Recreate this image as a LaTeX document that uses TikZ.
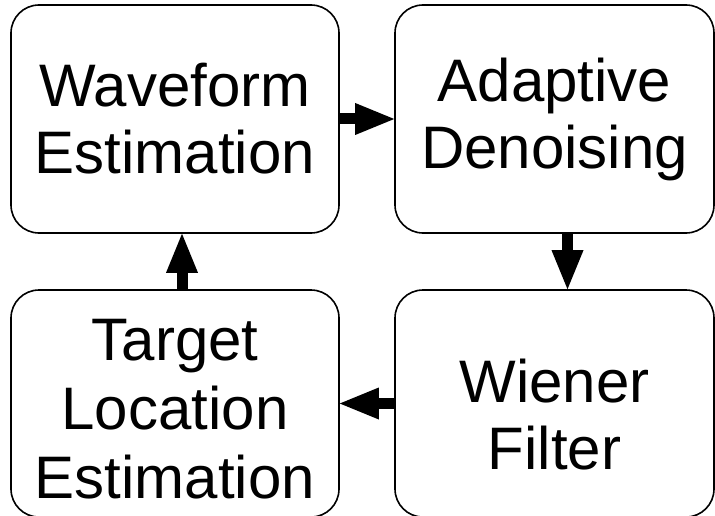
\documentclass[tikz,border=0pt]{standalone}
\usepackage{fontspec}
\setmainfont{Liberation Sans}
\usetikzlibrary{arrows.meta}

\tikzset{
  stage/.style={draw, line width=1.6pt, rounded corners=28pt, inner sep=0pt,
    minimum width=328pt, minimum height=228pt, align=center,
    font=\fontsize{60}{67}\selectfont},
  flow/.style={line width=11pt,
    -{Triangle[length=39pt, width=32pt, line width=0pt]}}
}

\begin{document}
\begin{tikzpicture}[x=1pt, y=-1pt]
        \useasboundingbox (0,0) rectangle (715,516);
        % the four processing stages
        \node[stage] (wave)   at (175,119)   {Waveform\\Estimation};
        \node[stage, minimum width=319pt] (adapt)  at (554.5,119) {Adaptive\\Denoising};
        \node[stage, minimum width=319pt, minimum height=227pt] (wiener) at (554.5,403.5)
          {\raisebox{-25pt}[0pt][0pt]{\begin{tabular}{@{}c@{}}Wiener\\Filter\end{tabular}}};
        \node[stage, minimum height=227pt] (target) at (175,403.5)
          {\raisebox{-19pt}[0pt][0pt]{\begin{tabular}{@{}c@{}}Target\\[2pt]Location\\[2pt]Estimation\end{tabular}}};
        % loop between the stages
        \draw[flow] (wave.east) -- (adapt.west);
        \draw[flow] ([xshift=13pt]adapt.south) -- ([xshift=13pt]wiener.north);
        \draw[flow] (wiener.west) -- (target.east);
        \draw[flow] ([xshift=7pt]target.north) -- ([xshift=7pt]wave.south);
      \end{tikzpicture}
\end{document}
